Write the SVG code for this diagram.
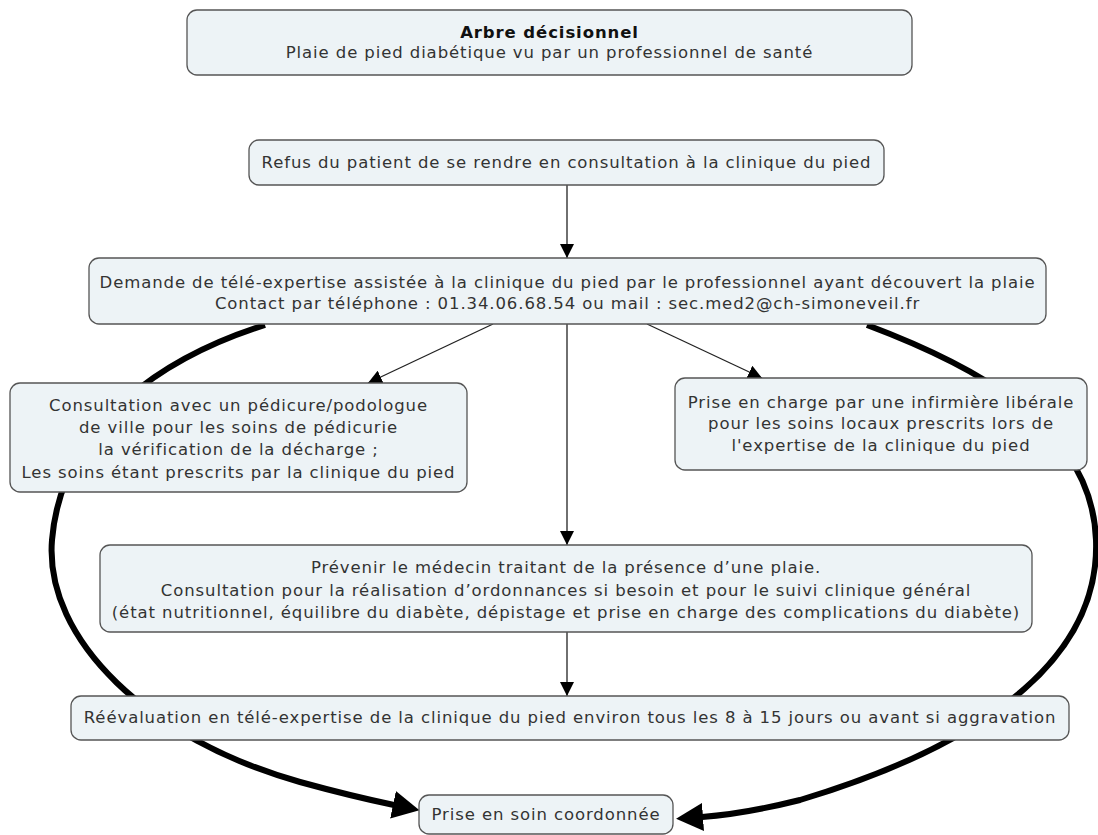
<svg xmlns="http://www.w3.org/2000/svg" width="1098" height="835" viewBox="0 0 1098 835">
<style>
.box{fill:#edf3f6;stroke:#555;stroke-width:1.3}
.t{font-family:"DejaVu Sans",Verdana,sans-serif;font-size:16.5px;letter-spacing:0.9px;fill:#333;text-anchor:middle}
.b{font-weight:bold;fill:#111}
.thin{fill:none;stroke:#222;stroke-width:1.3}
.thick{fill:none;stroke:#000;stroke-width:6}
</style>
<defs>
<marker id="ah" markerUnits="userSpaceOnUse" markerWidth="14" markerHeight="14" refX="14" refY="7" orient="auto">
<path d="M0,0 L14,7 L0,14 z" fill="#000"/>
</marker>
<marker id="ahb" markerUnits="userSpaceOnUse" markerWidth="27" markerHeight="28" refX="1" refY="14" orient="auto">
<path d="M0,0 L27,14 L0,28 z" fill="#000"/>
</marker>
</defs>
<rect width="1098" height="835" fill="#fff"/>
<g id="connectors">
<path class="thick" marker-end="url(#ahb)" d="M265,325 C170,355 62,420 52,540 C44,640 150,740 300,782 C340,793 370,800 394,805"/>
<path class="thick" marker-end="url(#ahb)" d="M867,325 C960,360 1092,420 1096,540 C1100,650 1000,740 800,800 C760,810 730,815 702,817"/>
<path class="thin" marker-end="url(#ah)" d="M567,185 L567,258"/>
<path class="thin" marker-end="url(#ah)" d="M493,324 L368,383"/>
<path class="thin" marker-end="url(#ah)" d="M647,324 L762,378"/>
<path class="thin" marker-end="url(#ah)" d="M567,324 L567,545"/>
<path class="thin" marker-end="url(#ah)" d="M567,632 L567,696"/>
</g>
<g id="title">
<rect class="box" x="187" y="10" width="725" height="65" rx="10"/>
<text class="t b" x="549.5" y="38">Arbre décisionnel</text>
<text class="t" x="549.5" y="58">Plaie de pied diabétique vu par un professionnel de santé</text>
</g>
<g id="refus">
<rect class="box" x="249" y="140" width="635" height="45" rx="10"/>
<text class="t" x="566.5" y="168">Refus du patient de se rendre en consultation à la clinique du pied</text>
</g>
<g id="demande">
<rect class="box" x="89" y="258" width="957" height="66" rx="10"/>
<text class="t" x="567.5" y="288">Demande de télé-expertise assistée à la clinique du pied par le professionnel ayant découvert la plaie</text>
<text class="t" x="567.5" y="309">Contact par téléphone : 01.34.06.68.54 ou mail : sec.med2@ch-simoneveil.fr</text>
</g>
<g id="pedicure">
<rect class="box" x="10" y="383" width="457" height="109" rx="10"/>
<text class="t" x="238.5" y="411">Consultation avec un pédicure/podologue</text>
<text class="t" x="238.5" y="433">de ville pour les soins de pédicurie</text>
<text class="t" x="238.5" y="455">la vérification de la décharge ;</text>
<text class="t" x="238.5" y="478">Les soins étant prescrits par la clinique du pied</text>
</g>
<g id="infirmiere">
<rect class="box" x="675" y="378" width="412" height="92" rx="10"/>
<text class="t" x="881" y="408">Prise en charge par une infirmière libérale</text>
<text class="t" x="881" y="429">pour les soins locaux prescrits lors de</text>
<text class="t" x="881" y="451">l'expertise de la clinique du pied</text>
</g>
<g id="medecin">
<rect class="box" x="100" y="545" width="932" height="87" rx="10"/>
<text class="t" x="566" y="573">Prévenir le médecin traitant de la présence d’une plaie.</text>
<text class="t" x="566" y="596">Consultation pour la réalisation d’ordonnances si besoin et pour le suivi clinique général</text>
<text class="t" x="566" y="618">(état nutritionnel, équilibre du diabète, dépistage et prise en charge des complications du diabète)</text>
</g>
<g id="reevaluation">
<rect class="box" x="71" y="696" width="998" height="44" rx="10"/>
<text class="t" x="570" y="723">Réévaluation en télé-expertise de la clinique du pied environ tous les 8 à 15 jours ou avant si aggravation</text>
</g>
<g id="prise-en-soin">
<rect class="box" x="419" y="795" width="254" height="39" rx="10"/>
<text class="t" x="546" y="820">Prise en soin coordonnée</text>
</g>
</svg>
